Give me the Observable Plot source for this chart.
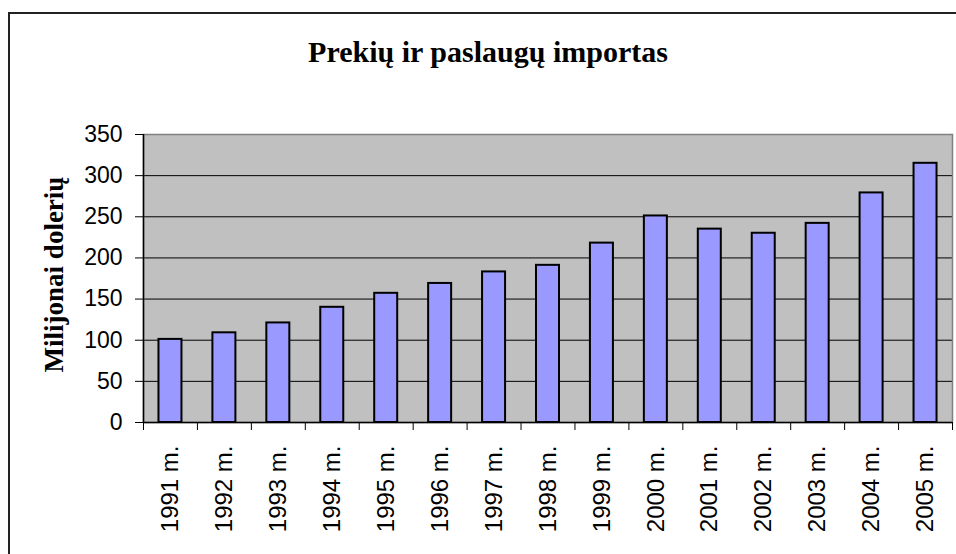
<!DOCTYPE html>
<html>
<head>
<meta charset="utf-8">
<script src="https://cdn.jsdelivr.net/npm/d3@7"></script>
<script src="https://cdn.jsdelivr.net/npm/@observablehq/plot@0.6"></script>
<style>
  html, body { margin: 0; padding: 0; background: #fff; overflow: hidden; }
  #wrap { position: relative; width: 956px; height: 554px; overflow: hidden; }
  #border { position: absolute; left: 8px; top: 12px; width: 1200px; height: 1200px;
            border-left: 2px solid #222; border-top: 2px solid #222; box-sizing: border-box; }
  #title { position: absolute; left: 10px; top: 34px; width: 956px; text-align: center;
           font-family: "Liberation Serif", "Times New Roman", serif; font-weight: bold;
           font-size: 30px; line-height: 36px; color: #000; }
  #chart { position: absolute; left: 0; top: 0; }
</style>
</head>
<body>
<div id="wrap">
  <div id="border"></div>
  <div id="chart"></div>
  <div id="title">Prekių ir paslaugų importas</div>
</div>
<script>
const years = ["1991 m.", "1992 m.", "1993 m.", "1994 m.", "1995 m.", "1996 m.", "1997 m.", "1998 m.",
               "1999 m.", "2000 m.", "2001 m.", "2002 m.", "2003 m.", "2004 m.", "2005 m."];
const values = [101, 109, 121, 140, 157, 169, 183, 191, 218, 251, 235, 230, 242, 279, 315];
const yTicks = [0, 50, 100, 150, 200, 250, 300, 350];
const yTitle = "Milijonai dolerių";

const data = years.map((year, i) => ({year, value: values[i]}));

const W = 956, H = 554;
const mL = 143, mR = 4, mT = 134, mB = 132;
const step = (W - mL - mR) / years.length;
const barW = 23;
const inset = (step - barW) / 2;

const chart = Plot.plot({
  width: W,
  height: H,
  marginLeft: mL,
  marginRight: mR,
  marginTop: mT,
  marginBottom: mB,
  x: {domain: years, padding: 0, round: false},
  y: {domain: [0, 350]},
  style: {fontFamily: "'Liberation Sans', Arial, sans-serif", fontSize: "22px", color: "#000", background: "transparent"},
  marks: [
    Plot.frame({fill: "#c0c0c0", stroke: null}),
    Plot.gridY(yTicks.slice(1, -1), {stroke: "#000", strokeOpacity: 1, strokeWidth: 1}),
    Plot.frame({fill: null, stroke: "#808080", strokeWidth: 1.5}),
    Plot.barY(data, {x: "year", y: "value", fill: "#9999ff", stroke: "#000", strokeWidth: 2,
                     insetLeft: inset, insetRight: inset}),
    Plot.ruleY([0], {stroke: "#000", strokeWidth: 1.5}),
    Plot.ruleX(years.slice(0, 1), {dx: -step / 2, stroke: "#000", strokeWidth: 1.5}),
    Plot.ruleX(years, {y1: 0, y2: 0, dx: -step / 2, insetBottom: -8, stroke: "#000", strokeWidth: 1}),
    Plot.ruleX(years.slice(-1), {y1: 0, y2: 0, dx: step / 2, insetBottom: -8, stroke: "#000", strokeWidth: 1}),
    Plot.axisY({ticks: yTicks, tickSize: 8, tickPadding: 13, label: null, fontSize: 23, stroke: "#000"}),
    Plot.axisX({tickSize: 0, tickRotate: -90, tickPadding: 23, label: null, fontSize: 24}),
    Plot.text([yTitle], {frameAnchor: "left", textAnchor: "middle", dx: -89, dy: -4, rotate: -90,
                         fontFamily: "'Liberation Serif', 'Times New Roman', serif",
                         fontWeight: "bold", fontSize: 27, fill: "#000"})
  ]
});
document.getElementById("chart").appendChild(chart);
</script>
</body>
</html>
